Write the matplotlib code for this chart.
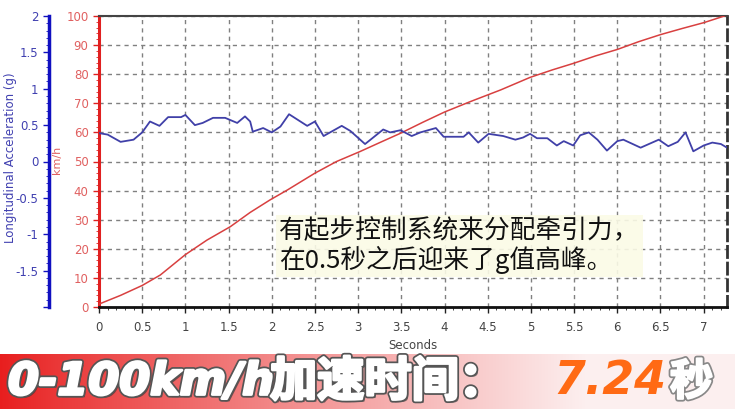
import matplotlib
matplotlib.use("Agg")
import matplotlib.pyplot as plt
import numpy as np
from matplotlib import patheffects as pe
from matplotlib.ticker import MultipleLocator, FixedLocator

plt.rcParams['font.family'] = ['DejaVu Sans', 'Noto Sans CJK SC']

# ---- data ----
speed_t = [0, 0.25, 0.5, 0.71, 1.0, 1.25, 1.52, 1.75, 1.98, 2.18, 2.5, 2.75, 3.02, 3.25,
           3.49, 3.75, 4.0, 4.3, 4.65, 4.99, 5.25, 5.49, 5.75, 6.0, 6.25, 6.5, 6.75, 7.0, 7.24]
speed_kmh = [1, 4, 7.4, 11, 18, 23, 27.6, 32.5, 36.8, 40.2, 46, 50, 53.4, 56.5,
             59.7, 63.5, 67, 70.6, 74.6, 78.9, 81.5, 83.7, 86.3, 88.5, 91.2, 93.6, 95.7, 97.7, 100]

acc_t = [0, 0.1, 0.25, 0.4, 0.5, 0.59, 0.7, 0.8, 0.95, 1.0, 1.11, 1.2, 1.32, 1.46, 1.6, 1.69,
         1.75, 1.78, 1.9, 2.0, 2.1, 2.2, 2.41, 2.5, 2.6, 2.81, 2.91, 3.08, 3.29, 3.37, 3.49,
         3.62, 3.72, 3.9, 3.99, 4.22, 4.28, 4.39, 4.51, 4.68, 4.82, 4.91, 4.99, 5.07, 5.19,
         5.3, 5.38, 5.49, 5.57, 5.67, 5.77, 5.88, 6.0, 6.07, 6.27, 6.48, 6.59, 6.7, 6.79,
         6.88, 7.0, 7.1, 7.2, 7.27]
acc_g = [0.39, 0.37, 0.27, 0.30, 0.40, 0.55, 0.49, 0.61, 0.61, 0.64, 0.50, 0.53, 0.60, 0.60,
         0.53, 0.62, 0.55, 0.41, 0.46, 0.40, 0.48, 0.65, 0.49, 0.55, 0.35, 0.49, 0.42, 0.24,
         0.44, 0.40, 0.43, 0.35, 0.40, 0.46, 0.34, 0.34, 0.40, 0.26, 0.38, 0.35, 0.30, 0.33,
         0.38, 0.32, 0.32, 0.22, 0.28, 0.22, 0.36, 0.40, 0.30, 0.15, 0.28, 0.30, 0.19, 0.30,
         0.21, 0.27, 0.40, 0.14, 0.22, 0.26, 0.24, 0.19]

x_ticks = [0, 0.5, 1, 1.5, 2, 2.5, 3, 3.5, 4, 4.5, 5, 5.5, 6, 6.5, 7]
x_ticklabels = ['0', '0.5', '1', '1.5', '2', '2.5', '3', '3.5', '4', '4.5', '5', '5.5', '6', '6.5', '7']
kmh_ticks = [0, 10, 20, 30, 40, 50, 60, 70, 80, 90, 100]
g_ticks = [-1.5, -1, -0.5, 0, 0.5, 1, 1.5, 2]
g_ticklabels = ['-1.5', '-1', '-0.5', '0', '0.5', '1', '1.5', '2']

note_lines = ['有起步控制系统来分配牵引力，', '在0.5秒之后迎来了g值高峰。']
banner_main = '0-100km/h加速时间：'
banner_value = '7.24'
banner_unit = '秒'

RED = '#e02020'
REDTXT = '#e06060'
BLUE = '#1010c0'
BLUETXT = '#4040b0'
W, H = 735, 409

fig = plt.figure(figsize=(W / 100, H / 100), dpi=100)
fig.patch.set_facecolor('white')

ax = fig.add_axes([99 / W, (H - 307) / H, 628 / W, 291 / H])
ax.set_xlim(0, 7.27)
ax.set_ylim(0, 100)
ax.set_xticks(x_ticks)
ax.set_xticklabels(x_ticklabels)
ax.xaxis.set_minor_locator(MultipleLocator(0.1))
ax.set_yticks(kmh_ticks)
ax.yaxis.set_minor_locator(MultipleLocator(2))
ax.tick_params(axis='x', colors='#222222', labelcolor='#444444', labelsize=8.5, length=4, width=1, pad=6)
ax.tick_params(axis='x', which='minor', length=2, colors='#222222')
ax.tick_params(axis='y', colors=RED, labelcolor=REDTXT, labelsize=8.5, length=4, width=1)
ax.tick_params(axis='y', which='minor', length=2, colors=RED)
ax.grid(True, which='major', color='#808080', linestyle=(0, (3, 3)), linewidth=1)
ax.spines['left'].set_color(RED)
ax.spines['left'].set_linewidth(2.2)
ax.spines['bottom'].set_color('#111111')
ax.spines['bottom'].set_linewidth(2)
ax.spines['top'].set_color('#444444')
ax.spines['top'].set_linewidth(1.5)
ax.spines['right'].set_color('#333333')
ax.spines['right'].set_linewidth(2)
ax.spines['right'].set_linestyle((0, (4, 2)))
ax.set_xlabel('Seconds', fontsize=8.5, color='#444444', labelpad=4)

ax.plot(speed_t, speed_kmh, color='#d84040', linewidth=1.1, zorder=3)

ax2 = ax.twinx()
ax2.set_ylim(-2, 2)
ax2.yaxis.tick_left()
ax2.spines['right'].set_visible(False)
ax2.spines['top'].set_visible(False)
ax2.spines['bottom'].set_visible(False)
ax2.spines['left'].set_visible(True)
ax2.spines['left'].set_position(('outward', 36))
ax2.spines['left'].set_color(BLUE)
ax2.spines['left'].set_linewidth(2.5)
ax2.yaxis.set_major_locator(FixedLocator(g_ticks + [-2]))
ax2.set_yticklabels(g_ticklabels + [''])
ax2.yaxis.set_minor_locator(MultipleLocator(0.1))
ax2.tick_params(axis='y', colors=BLUE, labelcolor=BLUETXT, labelsize=8.5, length=4, width=1)
ax2.tick_params(axis='y', which='minor', length=2, colors=BLUE)
ax2.plot(acc_t, acc_g, color='#4040a8', linewidth=1.3, zorder=3)

fig.text(11 / W, 1 - 158 / H, 'Longitudinal Acceleration (g)', rotation=90, color=BLUETXT,
         fontsize=8.5, ha='center', va='center')
fig.text(57 / W, 1 - 160 / H, 'km/h', rotation=90, color=REDTXT, fontsize=8,
         ha='center', va='center')

# annotation box
ax.text((279 - 99) / 86.3, (307 - 246) / 2.91,
        note_lines[0] + '\n' + note_lines[1],
        fontsize=18.5, color='#111111', family=['Noto Sans CJK SC', 'DejaVu Sans'],
        ha='left', va='center', linespacing=1.05, zorder=5,
        bbox=dict(boxstyle='square,pad=0.12', facecolor='#fbfbe6', edgecolor='none', alpha=0.9))

# bottom banner with gradient
bax = fig.add_axes([0, 0, 1, 55 / H])
grad = np.linspace(0, 1, 256)
c0 = np.array([0.91, 0.12, 0.12])
c1 = np.array([0.99, 0.94, 0.94])
t = np.clip(grad * 1.25, 0, 1) ** 0.9
img = c0[None, :] * (1 - t[:, None]) + c1[None, :] * t[:, None]
bax.imshow(img[None, :, :], aspect='auto', extent=[0, 1, 0, 1])
bax.set_xlim(0, 1)
bax.set_ylim(0, 1)
bax.axis('off')

outline = [pe.withSimplePatchShadow(offset=(2, -2), shadow_rgbFace='#333333', alpha=0.6),
           pe.Stroke(linewidth=4.5, foreground='#555555'),
           pe.Stroke(linewidth=2.0, foreground='white'),
           pe.Normal()]
fig.text(8 / W, 27 / H, '0-100km/h', fontsize=32, fontweight='bold', fontstyle='italic',
         color='white', ha='left', va='center', path_effects=outline)
fig.text(270 / W, 27 / H, banner_main[9:], fontsize=34, fontweight='bold',
         family=['Noto Sans CJK SC', 'DejaVu Sans'],
         color='white', ha='left', va='center', path_effects=outline)
fig.text(553 / W, 27 / H, banner_value, fontsize=33, fontweight='bold', fontstyle='italic',
         color='#ff6a14', ha='left', va='center')
fig.text(670 / W, 27 / H, banner_unit, fontsize=31, fontweight='bold',
         family=['Noto Sans CJK SC', 'DejaVu Sans'],
         color='white', ha='left', va='center',
         path_effects=[pe.Stroke(linewidth=4, foreground='#888888'),
                       pe.Stroke(linewidth=1.5, foreground='white'), pe.Normal()])

fig.savefig('out.png', dpi=100)
